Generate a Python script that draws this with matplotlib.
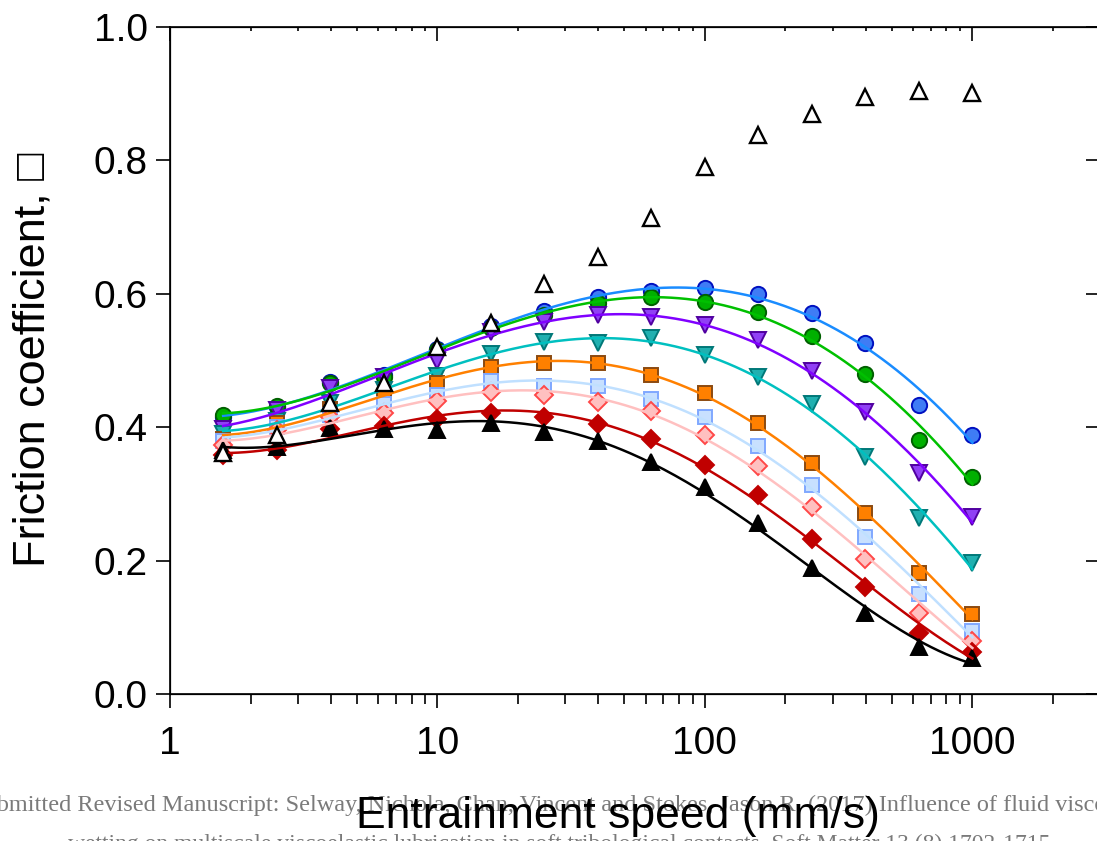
import matplotlib
matplotlib.use('Agg')
import matplotlib.pyplot as plt
import numpy as np

plt.rcParams['font.family'] = ['Liberation Sans', 'DejaVu Sans']

speed = [1.58, 2.51, 3.98, 6.31, 10, 15.8, 25.1, 39.8, 63.1, 100, 158, 251, 398, 631, 1000]

mu_open = [0.361, 0.388, 0.436, 0.466, 0.520, 0.556, 0.615, 0.655, 0.714, 0.790, 0.838, 0.870, 0.895, 0.904, 0.901]
mu_blue = [0.415, 0.430, 0.468, 0.478, 0.517, 0.552, 0.574, 0.595, 0.604, 0.609, 0.600, 0.571, 0.526, 0.433, 0.388]
mu_green = [0.418, 0.432, 0.466, 0.476, 0.515, 0.548, 0.568, 0.586, 0.595, 0.588, 0.572, 0.537, 0.480, 0.381, 0.325]
mu_purple = [0.397, 0.426, 0.459, 0.475, 0.500, 0.543, 0.558, 0.568, 0.565, 0.553, 0.531, 0.484, 0.423, 0.331, 0.265]
mu_teal = [0.390, 0.410, 0.436, 0.456, 0.477, 0.510, 0.528, 0.526, 0.534, 0.508, 0.475, 0.435, 0.355, 0.264, 0.196]
mu_orange = [0.383, 0.406, 0.428, 0.445, 0.466, 0.490, 0.496, 0.496, 0.478, 0.451, 0.406, 0.346, 0.271, 0.181, 0.120]
mu_ltblue = [0.380, 0.400, 0.418, 0.435, 0.448, 0.469, 0.462, 0.462, 0.442, 0.415, 0.372, 0.313, 0.235, 0.150, 0.094]
mu_pink = [0.373, 0.396, 0.415, 0.421, 0.439, 0.453, 0.448, 0.438, 0.424, 0.388, 0.342, 0.280, 0.202, 0.121, 0.080]
mu_red = [0.358, 0.366, 0.398, 0.402, 0.412, 0.421, 0.415, 0.405, 0.382, 0.343, 0.298, 0.232, 0.160, 0.092, 0.063]
mu_black = [0.366, 0.370, 0.399, 0.397, 0.396, 0.406, 0.393, 0.379, 0.348, 0.311, 0.256, 0.189, 0.121, 0.070, 0.054]

# (data, marker, face, edge, line colour, size)
series = [
    (mu_blue, 'o', '#3f7cf5', '#0010c0', '#1a8cff', 11),
    (mu_green, 'o', '#00b000', '#006000', '#00c000', 11),
    (mu_purple, 'v', '#9040f5', '#5000a0', '#8000ff', 12),
    (mu_teal, 'v', '#20b0b0', '#007878', '#00c0c0', 12),
    (mu_orange, 's', '#ff8000', '#8b4a10', '#ff8000', 10),
    (mu_ltblue, 's', '#c8e0ff', '#80a8ff', '#c0e0ff', 10),
    (mu_pink, 'D', '#ffc0c0', '#ff4848', '#ffc0c0', 9.5),
    (mu_red, 'D', '#c00000', '#c00000', '#c00000', 9.5),
    (mu_black, '^', 'black', 'black', 'black', 12),
]

fig = plt.figure(figsize=(10.97, 8.41), dpi=100)
ax = fig.add_axes([170/1097, 147/841, 930/1097, 667/841])

x = np.array(speed)
lx = np.log10(x)
xs = np.logspace(np.log10(1.58), 3, 200)
for vals, m, fc, ec, lc, ms in series:
    ax.plot(x, vals, m, ms=ms, mfc=fc, mec=ec, mew=1.4, ls='none', zorder=3)
    coef = np.polyfit(lx, vals, 4)
    ax.plot(xs, np.polyval(coef, np.log10(xs)), color=lc, lw=1.8, zorder=4)

ax.plot(x, mu_open, '^', ms=11, mfc='white', mec='black', mew=1.7, ls='none', zorder=5)

ax.set_xscale('log')
ax.set_xlim(1, 3000)
ax.set_ylim(0, 1)
ax.set_xticks([1, 10, 100, 1000])
ax.set_xticklabels(['1', '10', '100', '1000'])
ax.set_yticks([0, 0.2, 0.4, 0.6, 0.8, 1.0])
ax.set_yticklabels(['0.0', '0.2', '0.4', '0.6', '0.8', '1.0'])
ax.tick_params(which='major', direction='out', length=10, width=1.2, labelsize=28)
ax.tick_params(axis='x', which='major', pad=13)
ax.tick_params(axis='y', which='major', pad=6)
ax.tick_params(axis='x', which='minor', direction='out', length=7, width=1.2)
ax.tick_params(axis='y', which='minor', left=False)
for s in ax.spines.values():
    s.set_linewidth(1.2)

axt = ax.twiny()
axt.set_xscale('log')
axt.set_xlim(1, 3000)
axt.tick_params(axis='x', which='major', direction='in', length=10, width=1.2, labeltop=False)
axt.tick_params(axis='x', which='minor', direction='in', length=3, width=1.2)
axr = ax.twinx()
axr.set_ylim(0, 1)
axr.set_yticks([0, 0.2, 0.4, 0.6, 0.8, 1.0])
axr.tick_params(axis='y', which='major', direction='in', length=10, width=1.2, labelright=False)

fig.text(-29/1097, 1 - 811/841,
         'Submitted Revised Manuscript: Selway, Nichola, Chan, Vincent and Stokes, Jason R. (2017) Influence of fluid viscosity and',
         ha='left', va='baseline', fontsize=17.5, color='#7a7a7a', family='Liberation Serif')
fig.text(68/1097, 1 - 850/841,
         'wetting on multiscale viscoelastic lubrication in soft tribological contacts. Soft Matter 13 (8) 1702-1715.',
         ha='left', va='baseline', fontsize=17, color='#7a7a7a', family='Liberation Serif')

fig.text(618/1097, 1 - 828/841, 'Entrainment speed (mm/s)', ha='center', va='baseline', fontsize=32)
fig.text(33/1097, 1 - 360/841, 'Friction coefficient, \u25a1', rotation=90, ha='center', va='center', fontsize=32.5)

fig.savefig('out.png', dpi=100)
